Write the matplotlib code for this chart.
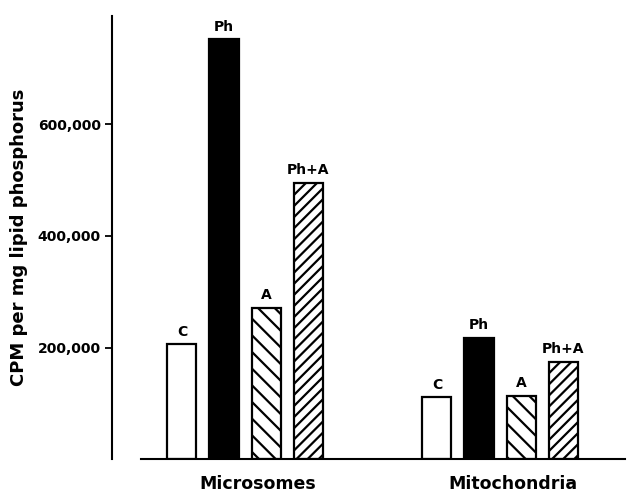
import numpy as np
import matplotlib
matplotlib.use('Agg')
import matplotlib.pyplot as plt
import matplotlib.transforms as mtransforms

# data
groups = ['Microsomes', 'Mitochondria']
treatments = ['C', 'Ph', 'A', 'Ph+A']
values = {
    'C':    [206000, 111000],
    'Ph':   [753000, 217000],
    'A':    [271000, 113000],
    'Ph+A': [495000, 174000],
}
yticks = [200000, 400000, 600000]
ytick_labels = ['200,000', '400,000', '600,000']

# styling per treatment
face = {'C': 'white', 'Ph': 'black', 'A': 'white', 'Ph+A': 'white'}
hatch = {'C': None, 'Ph': None, 'A': '\\\\', 'Ph+A': '///'}

plt.rcParams['font.family'] = 'DejaVu Sans'
plt.rcParams['font.weight'] = 'bold'
plt.rcParams['hatch.linewidth'] = 1.6

W, H = 629, 493
fig = plt.figure(figsize=(W / 100, H / 100), dpi=100)
# axes placed in pixel units: left spine at x=112, baseline at y=459
ax = fig.add_axes([112 / W, 1 - 459 / H, (625 - 112) / W, (459 - 13) / H])

step = 0.165
width = 0.114
offsets = (np.arange(len(treatments)) - 1.5) * step
xg = np.arange(len(groups))

for i, t in enumerate(treatments):
    bars = ax.bar(xg + offsets[i], values[t], width, color=face[t],
                  edgecolor='black', linewidth=1.6, hatch=hatch[t], zorder=2)
    for b, v in zip(bars, values[t]):
        ax.annotate(t, (b.get_x() + b.get_width() / 2, v), xytext=(0, 4),
                    textcoords='offset points', ha='center', va='bottom',
                    fontsize=10)

ax.set_xlim(-0.5216, 1.49)
ax.set_ylim(0, 800000)

for s in ['top', 'right']:
    ax.spines[s].set_visible(False)
ax.spines['left'].set_linewidth(1.5)
ax.spines['left'].set_bounds(0, 795000)
ax.spines['bottom'].set_linewidth(1.5)
ax.spines['bottom'].set_bounds(-0.408, 1.49)

ax.set_yticks(yticks)
ax.set_yticklabels(ytick_labels, fontsize=10)
ax.tick_params(axis='y', direction='out', length=5, width=1.3, pad=3)
ax.set_xticks([])

trans = mtransforms.blended_transform_factory(ax.transData, ax.transAxes)
for g, name in zip(xg, groups):
    ax.text(g + 0.05, -0.055, name, transform=trans, ha='center', va='center',
            fontsize=12.5)

fig.text(19 / W, 1 - 237 / H, 'CPM per mg lipid phosphorus', rotation=90,
         ha='center', va='center', fontsize=13)

fig.savefig('out.png', dpi=100)
